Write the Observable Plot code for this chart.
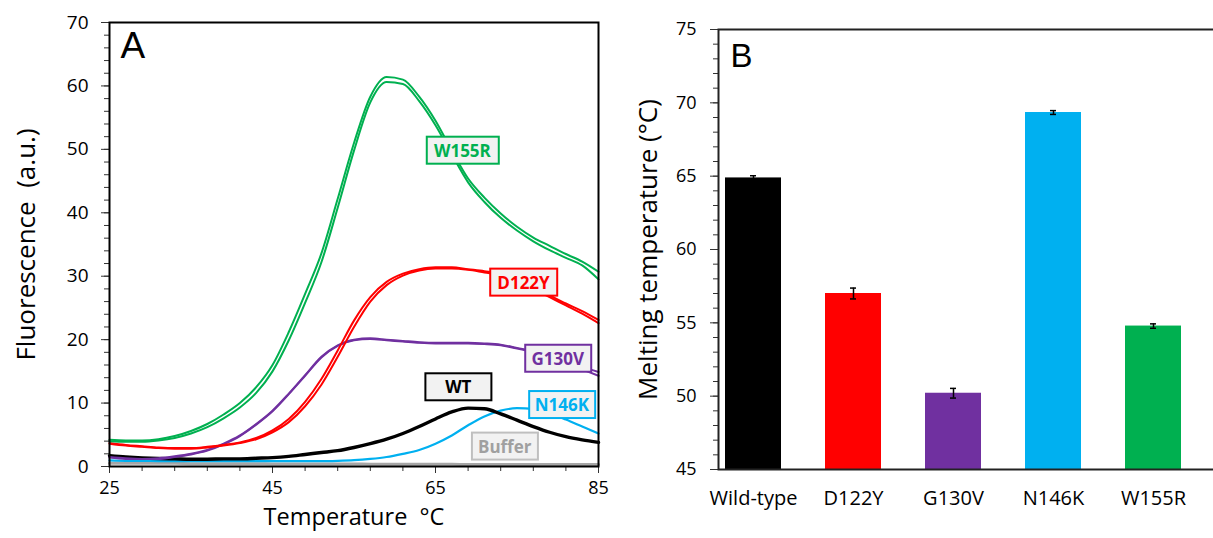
<!DOCTYPE html>
<html><head><meta charset="utf-8">
<script src="https://cdn.jsdelivr.net/npm/d3@7"></script>
<script src="https://cdn.jsdelivr.net/npm/@observablehq/plot@0.6"></script>
<style>
html,body{margin:0;padding:0;background:#fff;overflow:hidden;}
#wrap{display:flex;width:1213px;height:538px;overflow:hidden;background:#fff;}
#a,#b{flex:none;}
</style></head><body><div id="wrap"><div id="a"></div><div id="b"></div></div>
<script>
// ---------- Panel A data ----------
const temps = [25,27,29,31,33,35,37,39,41,43,45,47,49,51,53,55,57,59,61,63,65,67,69,71,73,75,77,79,81,83,85];
const w155r_1 = [4.2,4.1,4.1,4.3,4.8,5.6,6.7,8.2,10.0,12.5,16.0,21.2,27.2,33.6,42.2,51.0,58.3,61.4,61.0,58.3,54.5,49.8,45.4,42.4,39.9,37.8,36.1,34.8,33.5,32.3,30.7];
const w155r_2 = [4.0,3.9,3.9,4.1,4.5,5.2,6.2,7.6,9.3,11.6,15.0,19.9,25.8,32.2,40.8,49.8,57.4,60.6,60.3,57.6,53.8,49.2,44.8,41.7,39.2,37.2,35.5,34.1,32.9,31.7,29.5];
const d122y_1 = [3.7,3.4,3.2,3.0,2.9,2.9,3.1,3.4,3.8,4.5,5.7,7.5,10.2,13.8,18.3,23.0,26.7,29.1,30.4,31.1,31.4,31.4,31.1,30.8,30.4,29.5,28.3,27.0,25.7,24.5,23.1];
const d122y_2 = [3.6,3.3,3.1,2.9,2.8,2.8,3.0,3.3,3.7,4.3,5.4,7.0,9.5,12.9,17.3,22.0,26.0,28.6,30.1,30.9,31.2,31.2,31.0,30.6,30.2,29.3,28.0,26.7,25.4,24.1,22.6];
const g130v_1 = [1.5,1.3,1.2,1.3,1.6,2.0,2.6,3.6,4.9,6.7,8.8,11.5,14.4,17.3,19.1,20.0,20.2,20.0,19.8,19.6,19.5,19.5,19.5,19.4,19.2,18.7,18.2,17.5,16.7,15.7,14.9];
const g130v_2 = [1.4,1.2,1.2,1.2,1.5,1.9,2.5,3.5,4.8,6.6,8.7,11.4,14.3,17.2,19.0,19.9,20.1,19.9,19.7,19.5,19.4,19.4,19.4,19.3,19.1,18.6,18.0,17.2,16.3,15.3,14.3];
const wt = [1.7,1.5,1.35,1.25,1.2,1.15,1.15,1.2,1.2,1.3,1.4,1.6,1.9,2.2,2.5,3.0,3.6,4.3,5.2,6.3,7.5,8.6,9.2,9.1,8.3,7.3,6.3,5.4,4.7,4.2,3.8];
const n146k = [0.95,0.9,0.9,0.85,0.85,0.85,0.85,0.85,0.85,0.85,0.85,0.85,0.85,0.85,0.9,1.0,1.2,1.5,2.0,2.6,3.6,4.9,6.5,7.9,8.8,9.2,9.1,8.4,7.4,6.3,5.2];
const buffer = [0.5,0.5,0.5,0.5,0.5,0.45,0.45,0.45,0.45,0.45,0.4,0.4,0.4,0.4,0.4,0.4,0.35,0.35,0.35,0.35,0.35,0.35,0.3,0.3,0.3,0.3,0.3,0.3,0.3,0.3,0.3];

const labelNames = ["W155R","D122Y","G130V","WT","N146K","Buffer"];
const labelTemp  = [68.3, 75.8, 80.0, 67.8, 80.5, 73.5];
const labelFluo  = [49.7, 28.9, 16.9, 12.4, 9.6, 3.05];
const labelText  = ["#00b050","#ff0000","#7030a0","#000000","#00b0f0","#a0a0a0"];
const labelEdge  = ["#00b050","#ff0000","#7030a0","#000000","#00b0f0","#bfbfbf"];

const xMajorA = [25,45,65,85];
const xMinorA = [25,29,33,37,41,45,49,53,57,61,65,69,73,77,81,85];
const yMajorA = [0,10,20,30,40,50,60,70];
const yMinorA = [0,2,4,6,8,10,12,14,16,18,20,22,24,26,28,30,32,34,36,38,40,42,44,46,48,50,52,54,56,58,60,62,64,66,68,70];
const xTitleA = "Temperature\u00a0\u00a0°C";
const yTitleA = "Fluorescence\u00a0\u00a0(a.u.)";

// ---------- Panel B data ----------
const categories = ["Wild-type","D122Y","G130V","N146K","W155R"];
const tm = [64.88, 57.0, 50.2, 69.34, 54.78];
const tmErr = [0.15, 0.37, 0.33, 0.13, 0.15];
const barColors = ["#000000","#ff0000","#7030a0","#00b0f0","#00b050"];
const yMajorB = [45,50,55,60,65,70,75];
const yMinorB = [45,46,47,48,49,50,51,52,53,54,55,56,57,58,59,60,61,62,63,64,65,66,67,68,69,70,71,72,73,74,75];
const yTitleB = "Melting temperature (°C)";

// ---------- build ----------
const series = [
  {vals: buffer,  stroke: "#a6a6a6", w: 3},
  {vals: n146k,   stroke: "#00b0f0", w: 2.2},
  {vals: wt,      stroke: "#000000", w: 3.4},
  {vals: g130v_2, stroke: "#7030a0", w: 2},
  {vals: g130v_1, stroke: "#7030a0", w: 2},
  {vals: d122y_2, stroke: "#ff0000", w: 2},
  {vals: d122y_1, stroke: "#ff0000", w: 2},
  {vals: w155r_2, stroke: "#00b050", w: 2},
  {vals: w155r_1, stroke: "#00b050", w: 2}
];
const lineMarks = series.map(s => Plot.line(temps.map((t, i) => ({temp: t, value: s.vals[i]})),
  {x: "temp", y: "value", stroke: s.stroke, strokeWidth: s.w, curve: "monotone-x"}));

const labels = labelNames.map((n, i) => ({name: n, temp: labelTemp[i], fluo: labelFluo[i], color: labelText[i]}));

const baseStyle = {fontFamily: "'Open Sans', sans-serif", fontSize: "19px", color: "#000", background: "#fff", overflow: "visible"};

const plotA = Plot.plot({
  width: 620, height: 538,
  marginLeft: 109, marginRight: 22, marginTop: 22, marginBottom: 72,
  x: {domain: [25, 85]},
  y: {domain: [0, 70]},
  style: baseStyle,
  marks: [
    ...lineMarks,
    Plot.axisY({ticks: yMinorA, tickSize: 5, tickFormat: () => "", label: null, stroke: "#333"}),
    Plot.axisY({ticks: yMajorA, tickSize: 8, tickPadding: 13, fontSize: 19, label: null, stroke: "#333"}),
    Plot.axisX({ticks: xMinorA, tickSize: 5, tickFormat: () => "", label: null, stroke: "#333"}),
    Plot.axisX({ticks: xMajorA, tickSize: 7, tickPadding: 8, fontSize: 18, label: null, stroke: "#333"}),
    Plot.frame({stroke: "#000", strokeWidth: 2}),
    Plot.text(labels, {x: "temp", y: "fluo", text: "name", fill: "color", fontWeight: "bold", fontSize: 17}),
    Plot.text(["A"], {frameAnchor: "top-left", dx: 11, dy: 9, fontSize: 37, fontFamily: "'Liberation Sans', Arial, sans-serif", textAnchor: "start", lineAnchor: "top"}),
    Plot.text([xTitleA], {frameAnchor: "bottom", dy: 58.5, fontSize: 23.5}),
    Plot.text([yTitleA], {frameAnchor: "left", textAnchor: "middle", rotate: -90, dx: -83, fontSize: 26})
  ]
});

const dataB = categories.map((c, i) => ({cat: c, tm: tm[i], err: tmErr[i]}));

const plotB = Plot.plot({
  width: 600, height: 538,
  marginLeft: 98, marginRight: 0, marginTop: 29, marginBottom: 69,
  x: {domain: categories, range: [98.3, 567.2], paddingInner: 0.444, paddingOuter: 0.05},
  y: {domain: [45, 75]},
  color: {domain: categories, range: barColors},
  style: baseStyle,
  marks: [
    Plot.barY(dataB, {x: "cat", y1: () => yMajorB[0], y2: "tm", fill: "cat"}),
    Plot.ruleX(dataB, {x: "cat", y1: d => d.tm - d.err, y2: d => d.tm + d.err, stroke: "#000", strokeWidth: 1.5}),
    Plot.tickY(dataB, {x: "cat", y: d => d.tm + d.err, insetLeft: 25, insetRight: 25, stroke: "#000", strokeWidth: 1.5}),
    Plot.tickY(dataB, {x: "cat", y: d => d.tm - d.err, insetLeft: 25, insetRight: 25, stroke: "#000", strokeWidth: 1.5}),
    Plot.axisY({ticks: yMinorB, tickSize: 5, tickFormat: () => "", label: null, stroke: "#333"}),
    Plot.axisY({ticks: yMajorB, tickSize: 8, tickPadding: 14, fontSize: 18, label: null, stroke: "#333"}),
    Plot.axisX({tickSize: 0, tickPadding: 21, fontSize: 20, label: null}),
    Plot.frame({stroke: "#222", strokeWidth: 2}),
    Plot.text(["B"], {frameAnchor: "top-left", dx: 12, dy: 14, fontSize: 33, fontFamily: "'Liberation Sans', Arial, sans-serif", textAnchor: "start", lineAnchor: "top"}),
    Plot.text([yTitleB], {frameAnchor: "left", textAnchor: "middle", rotate: -90, dx: -70, fontSize: 26})
  ]
});

document.getElementById("a").append(plotA);
document.getElementById("b").append(plotB);

// label boxes behind the curve labels
(function addBoxes(svg) {
  const boxW = [72, 67, 66, 66, 66, 66], boxH = 27;
  svg.querySelectorAll("text").forEach(t => {
    const i = labelNames.indexOf(t.textContent);
    if (i < 0) return;
    const b = t.getBBox();
    const cx = b.x + b.width / 2, cy = b.y + b.height / 2;
    const r = document.createElementNS("http://www.w3.org/2000/svg", "rect");
    const w = boxW[i];
    r.setAttribute("x", cx - w / 2);
    r.setAttribute("y", cy - boxH / 2);
    r.setAttribute("width", w);
    r.setAttribute("height", boxH);
    r.setAttribute("fill", "#f2f2f2");
    r.setAttribute("stroke", labelEdge[i]);
    r.setAttribute("stroke-width", 2);
    const tr = t.getAttribute("transform");
    if (tr) r.setAttribute("transform", tr);
    t.parentNode.insertBefore(r, t);
  });
})(plotA);
</script>
</body></html>
